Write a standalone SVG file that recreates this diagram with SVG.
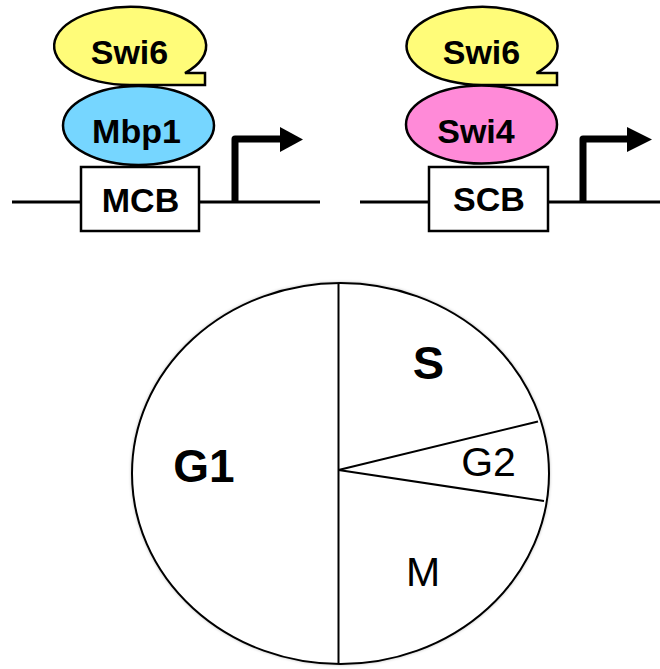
<svg xmlns="http://www.w3.org/2000/svg" width="660" height="669" viewBox="0 0 660 669">
<defs>
<style>
.lbl{font-family:"Liberation Sans",Arial,Helvetica,sans-serif;fill:#000;text-anchor:middle}
.b{font-weight:bold;font-size:34px}
.stk{stroke:#000;stroke-width:2.5}
.dna{stroke:#000;stroke-width:3;fill:none}
.prom{stroke:#000;stroke-width:7;fill:none;stroke-linejoin:round}
.pie{stroke:#000;stroke-width:2;fill:none}
</style>
<filter id="sh" x="-5%" y="-5%" width="110%" height="110%">
<feDropShadow dx="0" dy="0" stdDeviation="1.5" flood-color="#000" flood-opacity="0.25"/>
</filter>
</defs>
<rect width="660" height="669" fill="#fff"/>

<g id="connectors">
<line class="dna" x1="12" y1="202" x2="320" y2="202"/>
<line class="dna" x1="360" y1="202" x2="660" y2="202"/>
<path class="prom" d="M235,202 V139 H283"/>
<polygon points="280,127 303,139.5 280,152" fill="#000"/>
<path class="prom" d="M583,202 V139 H630"/>
<polygon points="627,127 652,139.5 627,152" fill="#000"/>
</g>

<g id="swi6-left">
<path class="stk" fill="#FFFC79" d="M185,73 A76 39 0 1 0 130,85 L205,85 L205,73 Z"/>
<text class="lbl b" x="129.5" y="63.5" font-size="35">Swi6</text>
</g>
<g id="mbp1">
<ellipse class="stk" fill="#76D6FF" cx="138.5" cy="125.5" rx="75.5" ry="39.5"/>
<text class="lbl b" x="136.5" y="142.5">Mbp1</text>
</g>
<g id="mcb">
<rect class="stk" fill="#fff" x="81" y="167" width="118" height="64" stroke-width="3"/>
<text class="lbl b" x="140.5" y="212">MCB</text>
</g>

<g id="swi6-right">
<path class="stk" fill="#FFFC79" d="M536.5,73 A75.5 39 0 1 0 481.5,85 L557,85 L557,73 Z"/>
<text class="lbl b" x="481.5" y="63.5" font-size="35">Swi6</text>
</g>
<g id="swi4">
<ellipse class="stk" fill="#FF8AD8" cx="481.5" cy="124.5" rx="75.5" ry="39"/>
<text class="lbl b" x="476" y="142.5">Swi4</text>
</g>
<g id="scb">
<rect class="stk" fill="#fff" x="429" y="167" width="119" height="64" stroke-width="3"/>
<text class="lbl b" x="489" y="211">SCB</text>
</g>

<g id="cell-cycle">
<ellipse cx="340.5" cy="473.5" rx="208.5" ry="190.5" fill="#fff" stroke="#000" stroke-width="2" filter="url(#sh)"/>
<line class="pie" x1="338.5" y1="283" x2="338.5" y2="664"/>
<line class="pie" x1="338.5" y1="470" x2="538" y2="421.5"/>
<line class="pie" x1="338.5" y1="470" x2="544" y2="501"/>
</g>
<g id="phase-g1"><text class="lbl" x="204" y="482" font-size="46" font-weight="bold">G1</text></g>
<g id="phase-s"><text class="lbl" x="428.5" y="379" font-size="47" font-weight="bold">S</text></g>
<g id="phase-g2"><text class="lbl" x="488.5" y="476" font-size="41">G2</text></g>
<g id="phase-m"><text class="lbl" x="423" y="586" font-size="41">M</text></g>
</svg>
